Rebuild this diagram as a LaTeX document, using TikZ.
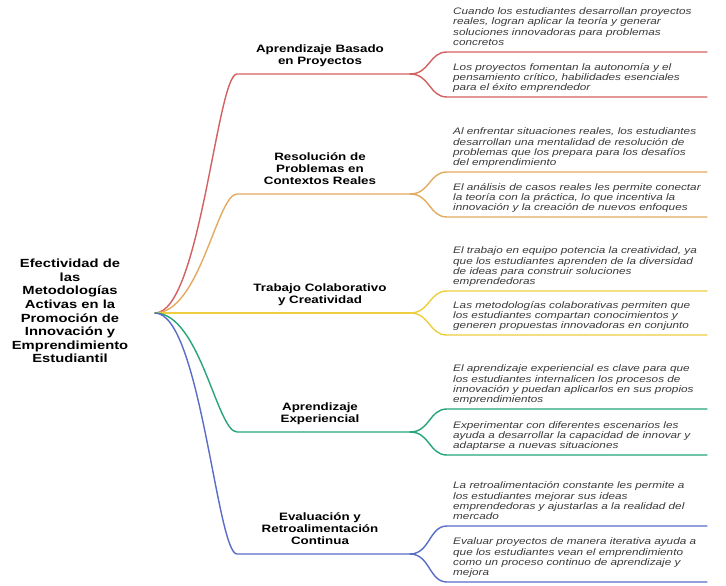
\documentclass[tikz,border=0pt]{standalone}
\usepackage{fontspec}
\setmainfont[FakeStretch=1.25]{Liberation Sans}
\definecolor{cred}{RGB}{212,96,96}
\definecolor{corange}{RGB}{228,170,96}
\definecolor{cyellow}{RGB}{238,206,62}
\definecolor{cgreen}{RGB}{38,166,120}
\definecolor{cblue}{RGB}{88,108,200}
\definecolor{leafgray}{RGB}{58,58,58}
\begin{document}
\begin{tikzpicture}[x=1pt,y=-1pt,
  conn/.style={line width=1.4pt, line cap=round},
  rootlabel/.style={font=\bfseries\fontsize{11.8}{13.6}\selectfont, align=center, inner sep=0pt},
  branchlabel/.style={font=\bfseries\fontsize{10.7}{12.3}\selectfont, align=center, inner sep=0pt, anchor=south, text depth=0pt},
  leaflabel/.style={font=\itshape\fontsize{9.4}{10.4}\selectfont, align=left, inner sep=0pt, anchor=south west, text depth=0pt, text=leafgray}]
\useasboundingbox (0,0) rectangle (726,586);
\fill[white] (0,0) rectangle (726,586);

% root
\node[rootlabel] (root) at (70,311) {Efectividad de\\las\\Metodologías\\Activas en la\\Promoción de\\Innovación y\\Emprendimiento\\Estudiantil};
\coordinate (r) at (155,313);

% ---------- branch 1 (red)
\coordinate (b1s) at (237,74); \coordinate (b1m) at (410,74);
\coordinate (l1a) at (447,52); \coordinate (l1ae) at (707,52);
\coordinate (l1b) at (447,97); \coordinate (l1be) at (707,97);
\node[branchlabel] (b1) at (320,65) {Aprendizaje Basado\\en Proyectos};
\node[leaflabel] (t1a) at (453,46) {Cuando los estudiantes desarrollan proyectos\\reales, logran aplicar la teoría y generar\\soluciones innovadoras para problemas\\concretos};
\node[leaflabel] (t1b) at (453,91) {Los proyectos fomentan la autonomía y el\\pensamiento crítico, habilidades esenciales\\para el éxito emprendedor};
\draw[conn, cred] (r) .. controls +(45,0) and +(-20,0) .. (b1s) -- (b1m);
\draw[conn, cred] (b1m) .. controls +(20,0) and +(-18,0) .. (l1a) -- (l1ae);
\draw[conn, cred] (b1m) .. controls +(20,0) and +(-18,0) .. (l1b) -- (l1be);

% ---------- branch 2 (orange)
\coordinate (b2s) at (237,194); \coordinate (b2m) at (410,194);
\coordinate (l2a) at (447,172); \coordinate (l2ae) at (707,172);
\coordinate (l2b) at (447,217); \coordinate (l2be) at (707,217);
\node[branchlabel] (b2) at (320,185) {Resolución de\\Problemas en\\Contextos Reales};
\node[leaflabel] (t2a) at (453,166) {Al enfrentar situaciones reales, los estudiantes\\desarrollan una mentalidad de resolución de\\problemas que los prepara para los desafíos\\del emprendimiento};
\node[leaflabel] (t2b) at (453,211) {El análisis de casos reales les permite conectar\\la teoría con la práctica, lo que incentiva la\\innovación y la creación de nuevos enfoques};
\draw[conn, corange] (r) .. controls +(45,0) and +(-20,0) .. (b2s) -- (b2m);
\draw[conn, corange] (b2m) .. controls +(20,0) and +(-18,0) .. (l2a) -- (l2ae);
\draw[conn, corange] (b2m) .. controls +(20,0) and +(-18,0) .. (l2b) -- (l2be);

% ---------- branch 3 (yellow)
\coordinate (b3s) at (237,313); \coordinate (b3m) at (410,313);
\coordinate (l3a) at (447,291); \coordinate (l3ae) at (707,291);
\coordinate (l3b) at (447,335); \coordinate (l3be) at (707,335);
\node[branchlabel] (b3) at (320,304) {Trabajo Colaborativo\\y Creatividad};
\node[leaflabel] (t3a) at (453,285) {El trabajo en equipo potencia la creatividad, ya\\que los estudiantes aprenden de la diversidad\\de ideas para construir soluciones\\emprendedoras};
\node[leaflabel] (t3b) at (453,329) {Las metodologías colaborativas permiten que\\los estudiantes compartan conocimientos y\\generen propuestas innovadoras en conjunto};
\draw[conn, cyellow] (r) -- (b3s) -- (b3m);
\draw[conn, cyellow] (b3m) .. controls +(20,0) and +(-18,0) .. (l3a) -- (l3ae);
\draw[conn, cyellow] (b3m) .. controls +(20,0) and +(-18,0) .. (l3b) -- (l3be);

% ---------- branch 4 (green)
\coordinate (b4s) at (237,432); \coordinate (b4m) at (410,432);
\coordinate (l4a) at (447,409); \coordinate (l4ae) at (707,409);
\coordinate (l4b) at (447,455); \coordinate (l4be) at (707,455);
\node[branchlabel] (b4) at (320,423) {Aprendizaje\\Experiencial};
\node[leaflabel] (t4a) at (453,403) {El aprendizaje experiencial es clave para que\\los estudiantes internalicen los procesos de\\innovación y puedan aplicarlos en sus propios\\emprendimientos};
\node[leaflabel] (t4b) at (453,449) {Experimentar con diferentes escenarios les\\ayuda a desarrollar la capacidad de innovar y\\adaptarse a nuevas situaciones};
\draw[conn, cgreen] (r) .. controls +(45,0) and +(-20,0) .. (b4s) -- (b4m);
\draw[conn, cgreen] (b4m) .. controls +(20,0) and +(-18,0) .. (l4a) -- (l4ae);
\draw[conn, cgreen] (b4m) .. controls +(20,0) and +(-18,0) .. (l4b) -- (l4be);

% ---------- branch 5 (blue)
\coordinate (b5s) at (237,554); \coordinate (b5m) at (410,554);
\coordinate (l5a) at (447,526); \coordinate (l5ae) at (707,526);
\coordinate (l5b) at (447,582); \coordinate (l5be) at (707,582);
\node[branchlabel] (b5) at (320,545) {Evaluación y\\Retroalimentación\\Continua};
\node[leaflabel] (t5a) at (453,520) {La retroalimentación constante les permite a\\los estudiantes mejorar sus ideas\\emprendedoras y ajustarlas a la realidad del\\mercado};
\node[leaflabel] (t5b) at (453,576) {Evaluar proyectos de manera iterativa ayuda a\\que los estudiantes vean el emprendimiento\\como un proceso continuo de aprendizaje y\\mejora};
\draw[conn, cblue] (r) .. controls +(45,0) and +(-20,0) .. (b5s) -- (b5m);
\draw[conn, cblue] (b5m) .. controls +(20,0) and +(-18,0) .. (l5a) -- (l5ae);
\draw[conn, cblue] (b5m) .. controls +(20,0) and +(-18,0) .. (l5b) -- (l5be);
\end{tikzpicture}
\end{document}
